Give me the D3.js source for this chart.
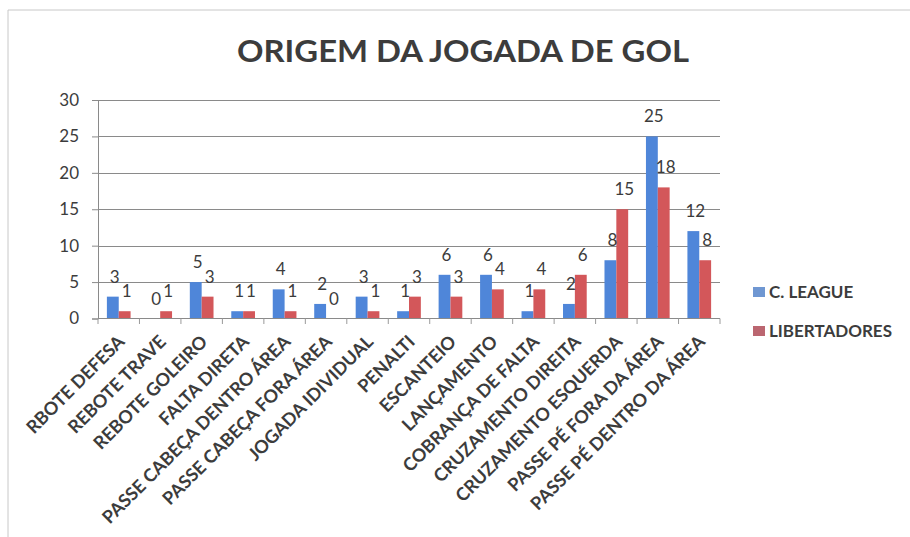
<!DOCTYPE html>
<html lang="pt">
  <head>
    <meta charset="utf-8">
    <title>Origem da jogada de gol</title>
    <script src="https://d3js.org/d3.v7.min.js"></script>
    <style>
      body { margin: 0; background: #fff; }
      svg text { font-family: Lato, "Open Sans", sans-serif; fill: #3c3c3c; }
    </style>
  </head>
  <body>
    <svg width="910" height="537"></svg>

    <script>
    // data
    var categories = ["RBOTE DEFESA", "REBOTE TRAVE", "REBOTE GOLEIRO", "FALTA DIRETA",
      "PASSE CABEÇA DENTRO ÁREA", "PASSE CABEÇA FORA ÁREA", "JOGADA IDIVIDUAL", "PENALTI",
      "ESCANTEIO", "LANÇAMENTO", "COBRANÇA DE FALTA", "CRUZAMENTO DIREITA",
      "CRUZAMENTO ESQUERDA", "PASSE PÉ FORA DA ÁREA", "PASSE PÉ DENTRO DA ÁREA"];
    var seriesNames = ["C. LEAGUE", "LIBERTADORES"];
    var cLeague = [3, 0, 5, 1, 4, 2, 3, 1, 6, 6, 1, 2, 8, 25, 12];
    var libertadores = [1, 1, 3, 1, 1, 0, 1, 3, 3, 4, 4, 6, 15, 18, 8];
    var yTicks = [0, 5, 10, 15, 20, 25, 30];
    var title = "ORIGEM DA JOGADA DE GOL";

    var colors = ["#4f86d9", "#d3575a"];
    var legendColors = ["#6f97d2", "#bb6670"];

    var svg = d3.select("svg");

    // chart frame (left and top edges of the pasted picture)
    svg.append("line").attr("x1", 8).attr("x2", 8).attr("y1", 10).attr("y2", 537)
      .attr("stroke", "#c8c8c8");
    svg.append("line").attr("x1", 8).attr("x2", 910).attr("y1", 10).attr("y2", 10)
      .attr("stroke", "#c8c8c8");

    // scales
    var x = d3.scaleBand().domain(categories).range([98, 720]);
    var xSub = d3.scaleBand().domain(seriesNames).range([0, x.bandwidth()])
      .paddingInner(0).paddingOuter(0.75);
    var y = d3.scaleLinear().domain([0, 30]).range([318.5, 100]);

    // gridlines + y axis
    var yAxis = svg.append("g")
      .attr("transform", "translate(98,0)")
      .call(d3.axisLeft(y).tickValues(yTicks).tickSize(6).tickPadding(13));
    yAxis.select(".domain").attr("stroke", "#8a8a8a");
    yAxis.selectAll(".tick line").attr("stroke", "#8a8a8a");
    yAxis.selectAll(".tick text").style("font-size", "17px").style("font-family", "Lato, sans-serif")
      .attr("fill", "#3c3c3c");

    svg.append("g").selectAll("line")
      .data(yTicks.filter(function(d){ return d > 0; }))
      .enter().append("line")
      .attr("x1", 98).attr("x2", 720)
      .attr("y1", function(d){ return Math.round(y(d)) + 0.5; })
      .attr("y2", function(d){ return Math.round(y(d)) + 0.5; })
      .attr("stroke", "#8a8a8a");

    // bars
    var rows = categories.map(function(c, i){ return { cat: c, vals: [cLeague[i], libertadores[i]] }; });

    var groups = svg.append("g").selectAll("g")
      .data(rows).enter().append("g")
      .attr("transform", function(d){ return "translate(" + x(d.cat) + ",0)"; });

    groups.selectAll("rect")
      .data(function(d){ return d.vals.map(function(v, j){ return { s: seriesNames[j], v: v, j: j }; }); })
      .enter().append("rect")
      .attr("x", function(d){ return xSub(d.s); })
      .attr("y", function(d){ return y(d.v); })
      .attr("width", xSub.bandwidth())
      .attr("height", function(d){ return y(0) - y(d.v); })
      .attr("fill", function(d){ return colors[d.j]; });

    // x axis line and ticks between categories
    svg.append("line").attr("x1", 98).attr("x2", 720).attr("y1", 318.5).attr("y2", 318.5)
      .attr("stroke", "#8a8a8a");
    svg.append("g").selectAll("line")
      .data(categories.concat(["end"]))
      .enter().append("line")
      .attr("x1", function(d, i){ return i < categories.length ? x(d) : x.range()[1]; })
      .attr("x2", function(d, i){ return i < categories.length ? x(d) : x.range()[1]; })
      .attr("y1", 318.5).attr("y2", 324)
      .attr("stroke", "#9a9a9a");

    // data labels
    groups.selectAll("text")
      .data(function(d){ return d.vals.map(function(v, j){ return { s: seriesNames[j], v: v }; }); })
      .enter().append("text")
      .attr("x", function(d){ return xSub(d.s) + xSub.bandwidth() / 2 + 2; })
      .attr("y", function(d){ return y(d.v) - 14; })
      .attr("text-anchor", "middle")
      .style("font-size", "17px")
      .text(function(d){ return d.v; });

    // category labels, rotated
    svg.append("g").selectAll("text")
      .data(categories).enter().append("text")
      .attr("transform", function(d){
        return "translate(" + (x(d) + x.bandwidth() / 2 - 2) + ",334) rotate(-45)";
      })
      .attr("text-anchor", "end")
      .attr("dy", "0.7em")
      .style("font-size", "18px")
      .style("font-weight", "bold")
      .text(function(d){ return d; });

    // title
    svg.append("text")
      .attr("x", 463).attr("y", 62)
      .attr("text-anchor", "middle")
      .style("font-size", "30px")
      .style("font-weight", "bold")
      .attr("textLength", 452)
      .attr("lengthAdjust", "spacingAndGlyphs")
      .text(title);

    // legend
    var legend = svg.append("g").selectAll("g")
      .data(seriesNames).enter().append("g")
      .attr("transform", function(d, i){ return "translate(753," + (287 + i * 39) + ")"; });
    legend.append("rect").attr("width", 12).attr("height", 10)
      .attr("fill", function(d, i){ return legendColors[i]; });
    legend.append("text").attr("x", 16).attr("y", 11)
      .style("font-size", "17px")
      .style("font-weight", "bold")
      .text(function(d){ return d; });
    </script>
  </body>
</html>
